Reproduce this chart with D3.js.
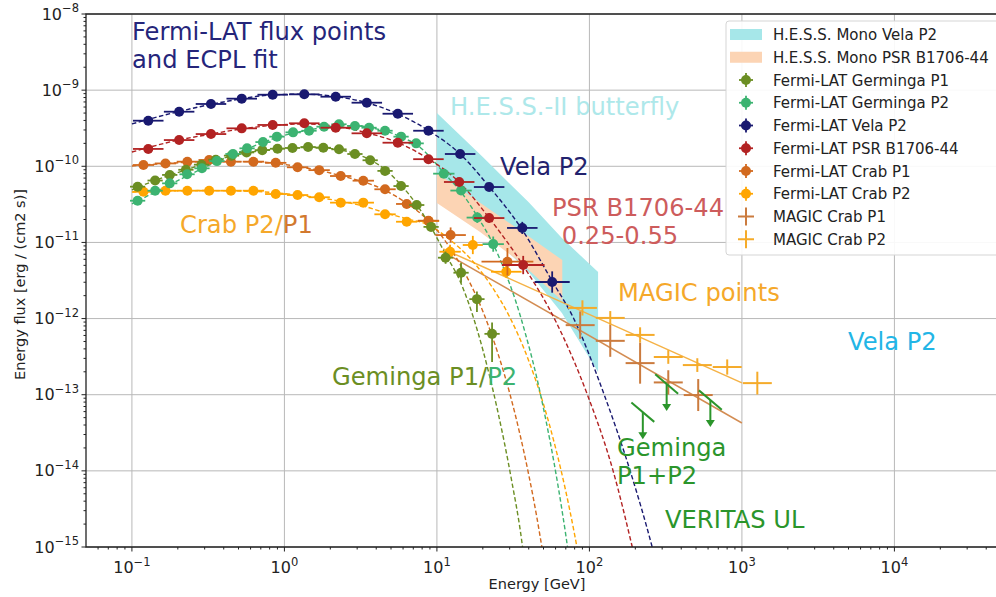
<!DOCTYPE html>
<html>
<head>
<meta charset="utf-8">
<script src="https://cdn.jsdelivr.net/npm/d3@7"></script>
<style>
  body { margin: 0; background: #fff; }
  svg { display: block; font-family: "DejaVu Sans", sans-serif; }
</style>
</head>
<body>
<svg id="chart" width="996" height="597"></svg>
<script>
'use strict';

// ---- data: energies in GeV, energy flux E^2 dN/dE in erg/(cm2 s) ----
// errors are given in decades (dex)

// Fermi-LAT Vela P2
var velaE = [0.128, 0.204, 0.330, 0.525, 0.838, 1.35, 2.17, 3.47, 5.54, 8.80, 14.2, 22.0, 36.3, 57.0];
var velaF = [3.97e-10, 5.21e-10, 6.58e-10, 7.73e-10, 8.71e-10, 8.81e-10, 8.20e-10, 6.84e-10, 4.90e-10, 2.93e-10, 1.45e-10, 5.34e-11, 1.55e-11, 3.02e-12];
var velaDx = [0.1, 0.1, 0.1, 0.1, 0.1, 0.1, 0.1, 0.1, 0.1, 0.1, 0.1, 0.1, 0.1, 0.115];
var velaDy = [0.02, 0.02, 0.02, 0.02, 0.02, 0.02, 0.02, 0.02, 0.02, 0.02, 0.03, 0.04, 0.08, 0.14];

// Fermi-LAT PSR B1706-44
var psrE = [0.128, 0.204, 0.330, 0.525, 0.838, 1.35, 2.17, 3.47, 5.54, 8.80, 14.0, 22.0, 36.8];
var psrF = [1.69e-10, 2.21e-10, 2.65e-10, 3.15e-10, 3.49e-10, 3.67e-10, 3.21e-10, 2.71e-10, 2.04e-10, 1.24e-10, 6.22e-11, 2.09e-11, 5.05e-12];
var psrDx = [0.1, 0.1, 0.1, 0.1, 0.1, 0.1, 0.1, 0.1, 0.1, 0.1, 0.1, 0.1, 0.14];
var psrDy = [0.02, 0.02, 0.02, 0.02, 0.02, 0.02, 0.02, 0.02, 0.02, 0.03, 0.04, 0.06, 0.12];

// Fermi-LAT Germinga P1
var gemP1E = [0.109, 0.142, 0.177, 0.226, 0.286, 0.355, 0.450, 0.565, 0.716, 0.901, 1.13, 1.43, 1.80, 2.28, 2.90, 3.65, 4.57, 5.82, 7.37, 9.16, 11.4, 14.4, 18.3, 23.0];
var gemP1F = [5.4e-11, 6.5e-11, 7.7e-11, 9.0e-11, 1.05e-10, 1.22e-10, 1.38e-10, 1.52e-10, 1.63e-10, 1.70e-10, 1.74e-10, 1.79e-10, 1.75e-10, 1.67e-10, 1.45e-10, 1.20e-10, 8.7e-11, 5.5e-11, 3.1e-11, 1.6e-11, 6.3e-12, 4.0e-12, 1.8e-12, 6.3e-13];
var gemP1Dx = [0.05, 0.05, 0.05, 0.05, 0.05, 0.05, 0.05, 0.05, 0.05, 0.05, 0.05, 0.05, 0.05, 0.05, 0.05, 0.05, 0.05, 0.05, 0.05, 0.05, 0.05, 0.05, 0.05, 0.05];
var gemP1DyUp = [0.02, 0.02, 0.02, 0.02, 0.02, 0.02, 0.02, 0.02, 0.02, 0.02, 0.02, 0.02, 0.02, 0.02, 0.02, 0.02, 0.02, 0.03, 0.04, 0.05, 0.08, 0.13, 0.10, 0.15];
var gemP1DyDn = [0.02, 0.02, 0.02, 0.02, 0.02, 0.02, 0.02, 0.02, 0.02, 0.02, 0.02, 0.02, 0.02, 0.02, 0.02, 0.02, 0.02, 0.03, 0.04, 0.05, 0.08, 0.13, 0.17, 0.37];

// Fermi-LAT Germinga P2
var gemP2E = [0.109, 0.142, 0.177, 0.230, 0.288, 0.361, 0.460, 0.569, 0.724, 0.893, 1.14, 1.45, 1.82, 2.28, 2.90, 3.59, 4.57, 5.82, 7.31, 11.1, 14.4, 18.4, 23.4];
var gemP2F = [3.53e-11, 4.78e-11, 5.97e-11, 7.85e-11, 9.4e-11, 1.17e-10, 1.45e-10, 1.72e-10, 2.08e-10, 2.45e-10, 2.79e-10, 2.93e-10, 3.31e-10, 3.56e-10, 3.38e-10, 3.21e-10, 2.93e-10, 2.45e-10, 2.00e-10, 8.0e-11, 4.8e-11, 2.12e-11, 9.5e-12];
var gemP2Dx = [0.05, 0.05, 0.05, 0.05, 0.05, 0.05, 0.05, 0.05, 0.05, 0.05, 0.05, 0.05, 0.05, 0.05, 0.05, 0.05, 0.05, 0.05, 0.05, 0.07, 0.07, 0.07, 0.07];
var gemP2Dy = [0.02, 0.02, 0.02, 0.02, 0.02, 0.02, 0.02, 0.02, 0.02, 0.02, 0.02, 0.02, 0.02, 0.02, 0.02, 0.02, 0.02, 0.02, 0.02, 0.04, 0.05, 0.07, 0.10];

// Fermi-LAT Crab P1
var crabP1E = [0.119, 0.166, 0.231, 0.321, 0.446, 0.626, 0.877, 1.22, 1.69, 2.34, 3.29, 4.57, 6.34, 8.80, 12.3, 29.0];
var crabP1F = [1.04e-10, 1.09e-10, 1.15e-10, 1.21e-10, 1.15e-10, 1.15e-10, 1.11e-10, 9.7e-11, 8.9e-11, 7.45e-11, 6.47e-11, 4.99e-11, 3.2e-11, 1.93e-11, 1.25e-11, 5.58e-12];
var crabP1Dx = [0.07, 0.07, 0.07, 0.07, 0.07, 0.07, 0.07, 0.07, 0.07, 0.07, 0.07, 0.07, 0.07, 0.07, 0.1, 0.17];
var crabP1Dy = [0.02, 0.02, 0.02, 0.02, 0.02, 0.02, 0.02, 0.02, 0.02, 0.02, 0.02, 0.02, 0.02, 0.04, 0.1, 0.18];

// Fermi-LAT Crab P2
var crabP2E = [0.119, 0.166, 0.231, 0.321, 0.446, 0.626, 0.877, 1.22, 1.69, 2.34, 3.29, 4.57, 6.34, 8.80, 12.2, 17.2, 28.5];
var crabP2F = [4.63e-11, 4.78e-11, 4.78e-11, 4.78e-11, 4.78e-11, 4.78e-11, 4.32e-11, 4.19e-11, 3.92e-11, 3.33e-11, 3.33e-11, 2.34e-11, 1.87e-11, 1.91e-11, 7.55e-12, 9.25e-12, 4.12e-12];
var crabP2Dx = [0.07, 0.07, 0.07, 0.07, 0.07, 0.07, 0.07, 0.07, 0.07, 0.07, 0.07, 0.07, 0.07, 0.07, 0.07, 0.066, 0.1];
var crabP2Dy = [0.02, 0.02, 0.02, 0.02, 0.02, 0.02, 0.02, 0.02, 0.02, 0.02, 0.02, 0.02, 0.02, 0.03, 0.09, 0.12, 0.08];

// ECPL fit curves (sampled off the figure)
var velaFitE = [0.1, 0.2, 0.4, 0.8, 1.3, 2.2, 3.5, 5.5, 8.8, 14.2, 22, 36, 57, 78, 125, 185, 258, 290];
var velaFitF = [3.6e-10, 5.2e-10, 7.0e-10, 8.6e-10, 8.85e-10, 8.2e-10, 6.8e-10, 4.9e-10, 2.95e-10, 1.45e-10, 5.4e-11, 1.5e-11, 3.1e-12, 1.05e-12, 1e-13, 1e-14, 1e-15, 4e-16];
var psrFitE = [0.1, 0.2, 0.33, 0.525, 0.84, 1.35, 2.17, 3.47, 5.54, 8.8, 14, 22, 36.5, 60.5, 97, 143, 191, 215];
var psrFitF = [1.54e-10, 2.2e-10, 2.65e-10, 3.1e-10, 3.45e-10, 3.6e-10, 3.35e-10, 2.75e-10, 2.05e-10, 1.25e-10, 6.2e-11, 2.1e-11, 5.1e-12, 9e-13, 1e-13, 1e-14, 1e-15, 3.6e-16];
var gemP1FitE = [0.1, 0.15, 0.22, 0.33, 0.5, 0.75, 1.1, 1.5, 2.0, 2.8, 3.7, 4.6, 5.8, 7.4, 9.2, 11.4, 14.4, 18.3, 22, 25, 30.7, 36, 38];
var gemP1FitF = [4.9e-11, 6.8e-11, 8.8e-11, 1.15e-10, 1.43e-10, 1.63e-10, 1.74e-10, 1.77e-10, 1.72e-10, 1.5e-10, 1.2e-10, 9.0e-11, 5.7e-11, 3.1e-11, 1.55e-11, 7.0e-12, 2.9e-12, 7.3e-13, 1.86e-13, 6.2e-14, 8e-15, 1.2e-15, 5e-16];
var gemP2FitE = [0.1, 0.2, 0.36, 0.57, 0.9, 1.45, 2.3, 3.0, 4.0, 5.0, 6.0, 7.3, 9.0, 11.1, 14.4, 18.4, 23.4, 28, 32.6, 38, 45.4, 52, 58.7, 66, 72.6, 76];
var gemP2FitF = [3.2e-11, 6.5e-11, 1.15e-10, 1.7e-10, 2.4e-10, 3.0e-10, 3.4e-10, 3.4e-10, 3.1e-10, 2.75e-10, 2.35e-10, 1.95e-10, 1.33e-10, 8.2e-11, 4.6e-11, 2.2e-11, 9.5e-12, 4.1e-12, 1.78e-12, 6.4e-13, 1.6e-13, 4.5e-14, 1.26e-14, 3.1e-15, 8.5e-16, 4e-16];
var crabP1FitE = [0.1, 0.17, 0.3, 0.6, 1.2, 2.3, 4.5, 6.3, 8.8, 12, 16, 20, 25, 30, 35, 40, 45, 50];
var crabP1FitF = [1.01e-10, 1.09e-10, 1.15e-10, 1.15e-10, 1.0e-10, 7.6e-11, 4.9e-11, 3.3e-11, 1.93e-11, 8.9e-12, 3.3e-12, 1.25e-12, 3.6e-13, 1.05e-13, 3.05e-14, 8.9e-15, 2.6e-15, 7.4e-16];
var crabP2FitE = [0.1, 0.3, 0.6, 1.2, 2.3, 3.3, 4.6, 6.3, 8.8, 12, 17, 23, 30, 40, 50, 60, 70, 80, 85];
var crabP2FitF = [4.6e-11, 4.8e-11, 4.7e-11, 4.2e-11, 3.5e-11, 3.0e-11, 2.45e-11, 2.05e-11, 1.7e-11, 1.11e-11, 5.8e-12, 2.6e-12, 1.05e-12, 2.8e-13, 7.5e-14, 2e-14, 5.4e-15, 1.45e-15, 7.5e-16];

// MAGIC Crab points and power-law fits
var magicP1E = [87, 137, 215, 329, 517];
var magicP1F = [8.2e-13, 5.1e-13, 2.6e-13, 1.45e-13, 9.9e-14];
var magicP1Dy = [0.18, 0.21, 0.27, 0.16, 0.21];
var magicP2E = [90, 137, 215, 329, 510, 801, 1262];
var magicP2F = [1.38e-12, 1.02e-12, 6.1e-13, 3.13e-13, 2.45e-13, 2.31e-13, 1.42e-13];
var magicP2Dy = [0.10, 0.09, 0.10, 0.09, 0.09, 0.10, 0.15];
var magicDx = 0.095;
var magicFitE = [11, 1000];
var magicP1FitF = [7.5e-12, 4.25e-14];
var magicP2FitF = [8.2e-12, 1.43e-13];

// VERITAS Geminga P1+P2 upper limits
var ulE = [224, 321, 621];
var ulF = [5.9e-14, 1.38e-13, 8.5e-14];
var ulIndex = -1.7;

// H.E.S.S. mono butterflies
var hessVelaE = [10, 20, 40, 66, 114];
var hessVelaHi = [5.01e-10, 1.32e-10, 3.36e-11, 1.14e-11, 4.09e-12];
var hessVelaLo = [5.19e-11, 1.55e-11, 4.09e-12, 1.18e-12, 1.99e-13];
var hessPsrE = [10, 19.2, 35.1, 66.4];
var hessPsrHi = [8.17e-11, 3.33e-11, 1.44e-11, 5.87e-12];
var hessPsrLo = [3.3e-11, 1.37e-11, 5.53e-12, 1.7e-12];

// axis ticks
var xDecades = [0.1, 1, 10, 100, 1000, 10000];
var xExp = ['\u22121', '0', '1', '2', '3', '4'];
var yDecades = [1e-15, 1e-14, 1e-13, 1e-12, 1e-11, 1e-10, 1e-9, 1e-8];
var yExp = ['\u221215', '\u221214', '\u221213', '\u221212', '\u221211', '\u221210', '\u22129', '\u22128'];

// ---- colours ----
var cVela = '#191970', cPsr = '#b22222', cGem1 = '#6b8e23', cGem2 = '#3cb371';
var cCrab1 = '#d2691e', cCrab2 = '#ffa500';
var cMagic1 = '#cb7b3e', cMagic2 = '#f5ab2a';
var cVer = '#2b952b';

var svg = d3.select('#chart');
var pL = 86, pR = 1001, pT = 14, pB = 547;

var xs = d3.scaleLog().domain([0.05, 5e4]).range([pL, pR]);
var ys = d3.scaleLog().domain([1e-15, 1e-8]).range([pB, pT]);

svg.append('defs').append('clipPath').attr('id', 'plotClip')
  .append('rect').attr('x', pL).attr('y', pT).attr('width', pR - pL).attr('height', pB - pT);

// grid
var grid = svg.append('g').attr('stroke', '#b8b8b8').attr('stroke-width', 1);
xDecades.forEach(function(d) {
  grid.append('line').attr('x1', xs(d)).attr('x2', xs(d)).attr('y1', pT).attr('y2', pB);
});
yDecades.forEach(function(d) {
  grid.append('line').attr('x1', pL).attr('x2', pR).attr('y1', ys(d)).attr('y2', ys(d));
});

var plot = svg.append('g').attr('clip-path', 'url(#plotClip)');

// butterflies
function band(E, hi, lo, color) {
  var pts = E.map(function(e, i) { return [xs(e), ys(hi[i])]; });
  for (var i = E.length - 1; i >= 0; i--) pts.push([xs(E[i]), ys(lo[i])]);
  plot.append('path').attr('d', 'M' + pts.join('L') + 'Z').attr('fill', color);
}
band(hessVelaE, hessVelaHi, hessVelaLo, '#a6e7e9');
band(hessPsrE, hessPsrHi, hessPsrLo, '#fcd4b4');

// MAGIC power-law fits
var straight = d3.line().x(function(d) { return xs(d[0]); }).y(function(d) { return ys(d[1]); });
plot.append('path').attr('d', straight(d3.zip(magicFitE, magicP2FitF)))
  .attr('fill', 'none').attr('stroke', '#f5b246').attr('stroke-width', 1.5);
plot.append('path').attr('d', straight(d3.zip(magicFitE, magicP1FitF)))
  .attr('fill', 'none').attr('stroke', '#d38c52').attr('stroke-width', 1.5);

// ECPL fits
var smooth = d3.line().x(function(d) { return xs(d[0]); }).y(function(d) { return ys(d[1]); })
  .curve(d3.curveMonotoneX);
function fit(E, F, color) {
  plot.append('path').attr('d', smooth(d3.zip(E, F)))
    .attr('fill', 'none').attr('stroke', color).attr('stroke-width', 1.4)
    .attr('stroke-dasharray', '4.5,2.5');
}
fit(crabP2FitE, crabP2FitF, cCrab2);
fit(crabP1FitE, crabP1FitF, cCrab1);
fit(gemP2FitE, gemP2FitF, cGem2);
fit(gemP1FitE, gemP1FitF, cGem1);
fit(psrFitE, psrFitF, cPsr);
fit(velaFitE, velaFitF, cVela);

// Fermi flux points with error bars
function fermi(E, F, dx, dyUp, dyDn, color) {
  dyDn = dyDn || dyUp;
  var g = plot.append('g').attr('stroke', color).attr('stroke-width', 1.8);
  E.forEach(function(e, i) {
    var f = F[i];
    g.append('line').attr('x1', xs(e / Math.pow(10, dx[i]))).attr('x2', xs(e * Math.pow(10, dx[i])))
      .attr('y1', ys(f)).attr('y2', ys(f));
    g.append('line').attr('x1', xs(e)).attr('x2', xs(e))
      .attr('y1', ys(f * Math.pow(10, dyUp[i]))).attr('y2', ys(f / Math.pow(10, dyDn[i])));
    g.append('circle').attr('cx', xs(e)).attr('cy', ys(f)).attr('r', 5)
      .attr('fill', color).attr('stroke', 'none');
  });
}
fermi(crabP2E, crabP2F, crabP2Dx, crabP2Dy, null, cCrab2);
fermi(crabP1E, crabP1F, crabP1Dx, crabP1Dy, null, cCrab1);
fermi(gemP1E, gemP1F, gemP1Dx, gemP1DyUp, gemP1DyDn, cGem1);
fermi(gemP2E, gemP2F, gemP2Dx, gemP2Dy, null, cGem2);
fermi(psrE, psrF, psrDx, psrDy, null, cPsr);
fermi(velaE, velaF, velaDx, velaDy, null, cVela);

// MAGIC crosses
function crosses(E, F, dy, color) {
  var g = plot.append('g').attr('stroke', color).attr('stroke-width', 2);
  E.forEach(function(e, i) {
    var f = F[i];
    g.append('line').attr('x1', xs(e / Math.pow(10, magicDx))).attr('x2', xs(e * Math.pow(10, magicDx)))
      .attr('y1', ys(f)).attr('y2', ys(f));
    g.append('line').attr('x1', xs(e)).attr('x2', xs(e))
      .attr('y1', ys(f * Math.pow(10, dy[i]))).attr('y2', ys(f / Math.pow(10, dy[i])));
  });
}
crosses(magicP1E, magicP1F, magicP1Dy, cMagic1);
crosses(magicP2E, magicP2F, magicP2Dy, cMagic2);

// VERITAS upper limits
var ulG = plot.append('g').attr('stroke', cVer).attr('stroke-width', 2);
ulE.forEach(function(e, i) {
  var f = ulF[i], w = 0.075;
  var x0 = xs(e), y0 = ys(f);
  ulG.append('line')
    .attr('x1', xs(e / Math.pow(10, w))).attr('y1', ys(f / Math.pow(10, w * ulIndex)))
    .attr('x2', xs(e * Math.pow(10, w))).attr('y2', ys(f * Math.pow(10, w * ulIndex)));
  ulG.append('line').attr('x1', x0).attr('x2', x0).attr('y1', y0).attr('y2', y0 + 21);
  ulG.append('path').attr('d', 'M' + (x0 - 4.5) + ',' + (y0 + 20) + 'L' + (x0 + 4.5) + ',' + (y0 + 20) +
    'L' + x0 + ',' + (y0 + 27) + 'Z').attr('fill', cVer).attr('stroke', 'none');
});

// axes
function supLabel(sel, exp) {
  sel.text(null);
  sel.append('tspan').text('10');
  sel.append('tspan').attr('dy', -7.5).attr('font-size', 11.5).text(exp);
}
var xMinor = [], yMinor = [];
d3.range(-2, 5).forEach(function(p) {
  d3.range(2, 10).forEach(function(k) {
    var v = k * Math.pow(10, p);
    if (v > 0.05 && v < 5e4) xMinor.push(v);
  });
});
d3.range(-15, -8).forEach(function(p) {
  d3.range(2, 10).forEach(function(k) { yMinor.push(k * Math.pow(10, p)); });
});

var axes = svg.append('g').attr('stroke', '#222');
xMinor.forEach(function(v) {
  axes.append('line').attr('x1', xs(v)).attr('x2', xs(v)).attr('y1', pB).attr('y2', pB + 2.5);
});
xDecades.forEach(function(v) {
  axes.append('line').attr('x1', xs(v)).attr('x2', xs(v)).attr('y1', pB).attr('y2', pB + 4.5);
});
yMinor.forEach(function(v) {
  axes.append('line').attr('x1', pL - 2.5).attr('x2', pL).attr('y1', ys(v)).attr('y2', ys(v));
});
yDecades.forEach(function(v) {
  axes.append('line').attr('x1', pL - 4.5).attr('x2', pL).attr('y1', ys(v)).attr('y2', ys(v));
});
axes.append('path').attr('fill', 'none').attr('stroke-width', 1.3)
  .attr('d', 'M' + pR + ',' + pT + 'H' + pL + 'V' + pB + 'H' + pR);

var tickText = svg.append('g').attr('fill', '#222').attr('font-size', 16);
xDecades.forEach(function(v, i) {
  tickText.append('text').attr('x', xs(v)).attr('y', 573).attr('text-anchor', 'middle')
    .call(supLabel, xExp[i]);
});
yDecades.forEach(function(v, i) {
  tickText.append('text').attr('x', pL - 7).attr('y', ys(v) + 5.5).attr('text-anchor', 'end')
    .call(supLabel, yExp[i]);
});

svg.append('text').attr('x', (pL + 996) / 2 - 4).attr('y', 589).attr('text-anchor', 'middle')
  .attr('font-size', 14.5).attr('fill', '#222').text('Energy [GeV]');
svg.append('text').attr('transform', 'translate(25,' + ((pT + pB) / 2 + 4) + ') rotate(-90)')
  .attr('text-anchor', 'middle').attr('font-size', 14.5).attr('fill', '#222')
  .text('Energy flux [erg / (cm2 s)]');

// annotations
var notes = svg.append('g').attr('font-size', 24.2);
function note(x, y, txt, color, anchor) {
  return notes.append('text').attr('x', x).attr('y', y).attr('fill', color)
    .attr('text-anchor', anchor || 'start').text(txt);
}
note(132, 40, 'Fermi-LAT flux points', '#25257a');
note(132, 68, 'and ECPL fit', '#25257a');
note(450, 115, 'H.E.S.S.-II butterfly', '#aee8ea');
note(500, 175, 'Vela P2', '#22226e');
note(552, 216, 'PSR B1706-44', '#cd5c5c');
note(620, 244, '0.25-0.55', '#cd5c5c', 'middle');
var crabNote = note(180, 233, 'Crab P2/', '#f5a82a');
crabNote.append('tspan').attr('fill', '#d2792e').text('P1');
note(618, 301, 'MAGIC points', '#f5a82a');
note(848, 350, 'Vela P2', '#22b5e6');
var gemNote = note(332, 385, 'Geminga P1/', '#6b8e23');
gemNote.append('tspan').attr('fill', '#3cb371').text('P2');
note(617, 456, 'Geminga', cVer);
note(617, 484, 'P1+P2', cVer);
note(665, 528, 'VERITAS UL', cVer);

// legend
var legendLabels = ['H.E.S.S. Mono Vela P2', 'H.E.S.S. Mono PSR B1706-44', 'Fermi-LAT Germinga P1',
  'Fermi-LAT Germinga P2', 'Fermi-LAT Vela P2', 'Fermi-LAT PSR B1706-44', 'Fermi-LAT Crab P1',
  'Fermi-LAT Crab P2', 'MAGIC Crab P1', 'MAGIC Crab P2'];
var legendKinds = ['patch', 'patch', 'dot', 'dot', 'dot', 'dot', 'dot', 'dot', 'cross', 'cross'];
var legendColors = ['#a6e7e9', '#fcd4b4', cGem1, cGem2, cVela, cPsr, cCrab1, cCrab2, cMagic1, cMagic2];

var lg = svg.append('g');
lg.append('rect').attr('x', 726).attr('y', 21).attr('width', 276).attr('height', 234).attr('rx', 3)
  .attr('fill', '#fff').attr('fill-opacity', 0.9).attr('stroke', '#d5d5d5');
legendLabels.forEach(function(lab, i) {
  var cy = 34.5 + i * 22.75, cx = 746;
  if (legendKinds[i] === 'patch') {
    lg.append('rect').attr('x', 730).attr('y', cy - 5.5).attr('width', 32).attr('height', 11)
      .attr('fill', legendColors[i]);
  } else if (legendKinds[i] === 'dot') {
    var g = lg.append('g').attr('stroke', legendColors[i]).attr('stroke-width', 1.8);
    g.append('line').attr('x1', cx - 7).attr('x2', cx + 7).attr('y1', cy).attr('y2', cy);
    g.append('line').attr('x1', cx).attr('x2', cx).attr('y1', cy - 7).attr('y2', cy + 7);
    g.append('circle').attr('cx', cx).attr('cy', cy).attr('r', 5).attr('fill', legendColors[i]).attr('stroke', 'none');
  } else {
    var c = lg.append('g').attr('stroke', legendColors[i]).attr('stroke-width', 2);
    c.append('line').attr('x1', cx - 8).attr('x2', cx + 8).attr('y1', cy).attr('y2', cy);
    c.append('line').attr('x1', cx).attr('x2', cx).attr('y1', cy - 9).attr('y2', cy + 9);
  }
  lg.append('text').attr('x', 773).attr('y', cy + 5.5).attr('font-size', 15).attr('fill', '#222').text(lab);
});
</script>
</body>
</html>
